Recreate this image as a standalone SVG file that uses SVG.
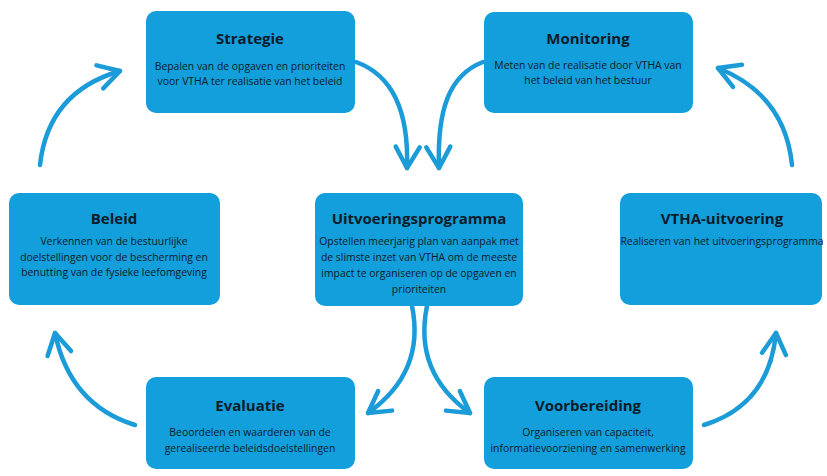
<svg xmlns="http://www.w3.org/2000/svg" width="827" height="476" viewBox="0 0 827 476">
<defs>
<style>
.box{fill:#129fdb;}
.t{font-family:"Open Sans","Liberation Sans",sans-serif;font-weight:bold;font-size:15px;fill:#0d1b2a;text-anchor:middle;}
.b{font-family:"Open Sans","Liberation Sans",sans-serif;font-size:10.4px;fill:#0d1b2a;text-anchor:middle;}
.c{fill:none;stroke:#1b9bd7;stroke-width:4.5;stroke-linecap:round;stroke-linejoin:round;}
</style>
<marker id="ah" markerUnits="userSpaceOnUse" viewBox="-26 -16 30 32" refX="0" refY="0" markerWidth="30" markerHeight="32" orient="auto" overflow="visible">
<path d="M-21,-12 L0,0 L-21,12" fill="none" stroke="#1b9bd7" stroke-width="4.5" stroke-linecap="round" stroke-linejoin="round"/>
</marker>
</defs>
<rect width="827" height="476" fill="#ffffff"/>
<g id="connectors">
<path class="c" marker-end="url(#ah)" d="M40,165 Q48,92 120,71"/>
<path class="c" marker-end="url(#ah)" d="M356,62 C392,75 409,110 407,168"/>
<path class="c" marker-end="url(#ah)" d="M483,62 C449,75 437,110 439,168"/>
<path class="c" marker-end="url(#ah)" d="M792,165 Q785,95 718,68"/>
<path class="c" marker-end="url(#ah)" d="M412,306 C421,350 406,386 368,413"/>
<path class="c" marker-end="url(#ah)" d="M427,306 C418,350 432,386 470,413"/>
<path class="c" marker-end="url(#ah)" d="M135,425 Q70,405 55,333"/>
<path class="c" marker-end="url(#ah)" d="M704,425 Q769,405 776,333"/>
</g>
<g id="strategie">
<rect class="box" x="146" y="11" width="209" height="102" rx="10"/>
<text class="t" x="250" y="44">Strategie</text>
<text class="b" x="250" y="70">Bepalen van de opgaven en prioriteiten</text>
<text class="b" x="250" y="85">voor VTHA ter realisatie van het beleid</text>
</g>
<g id="monitoring">
<rect class="box" x="484" y="12" width="209" height="101" rx="10"/>
<text class="t" x="588" y="44">Monitoring</text>
<text class="b" x="588" y="69">Meten van de realisatie door VTHA van</text>
<text class="b" x="588" y="84">het beleid van het bestuur</text>
</g>
<g id="beleid">
<rect class="box" x="9" y="193" width="211" height="112" rx="10"/>
<text class="t" x="114" y="224">Beleid</text>
<text class="b" x="114" y="245">Verkennen van de bestuurlijke</text>
<text class="b" x="114" y="261">doelstellingen voor de bescherming en</text>
<text class="b" x="114" y="276">benutting van de fysieke leefomgeving</text>
</g>
<g id="uitvoeringsprogramma">
<rect class="box" x="315" y="193" width="208" height="113" rx="10"/>
<text class="t" x="419" y="224">Uitvoeringsprogramma</text>
<text class="b" x="419" y="245">Opstellen meerjarig plan van aanpak met</text>
<text class="b" x="419" y="261">de slimste inzet van VTHA om de meeste</text>
<text class="b" x="419" y="277">impact te organiseren op de opgaven en</text>
<text class="b" x="419" y="293">prioriteiten</text>
</g>
<g id="vtha-uitvoering">
<rect class="box" x="620" y="193" width="202" height="112" rx="10"/>
<text class="t" x="722" y="224">VTHA-uitvoering</text>
<text class="b" x="722" y="245">Realiseren van het uitvoeringsprogramma</text>
</g>
<g id="evaluatie">
<rect class="box" x="146" y="377" width="209" height="92" rx="10"/>
<text class="t" x="250" y="411">Evaluatie</text>
<text class="b" x="250" y="436">Beoordelen en waarderen van de</text>
<text class="b" x="250" y="452">gerealiseerde beleidsdoelstellingen</text>
</g>
<g id="voorbereiding">
<rect class="box" x="484" y="377" width="209" height="92" rx="10"/>
<text class="t" x="588" y="411">Voorbereiding</text>
<text class="b" x="588" y="436">Organiseren van capaciteit,</text>
<text class="b" x="588" y="452">informatievoorziening en samenwerking</text>
</g>
</svg>
